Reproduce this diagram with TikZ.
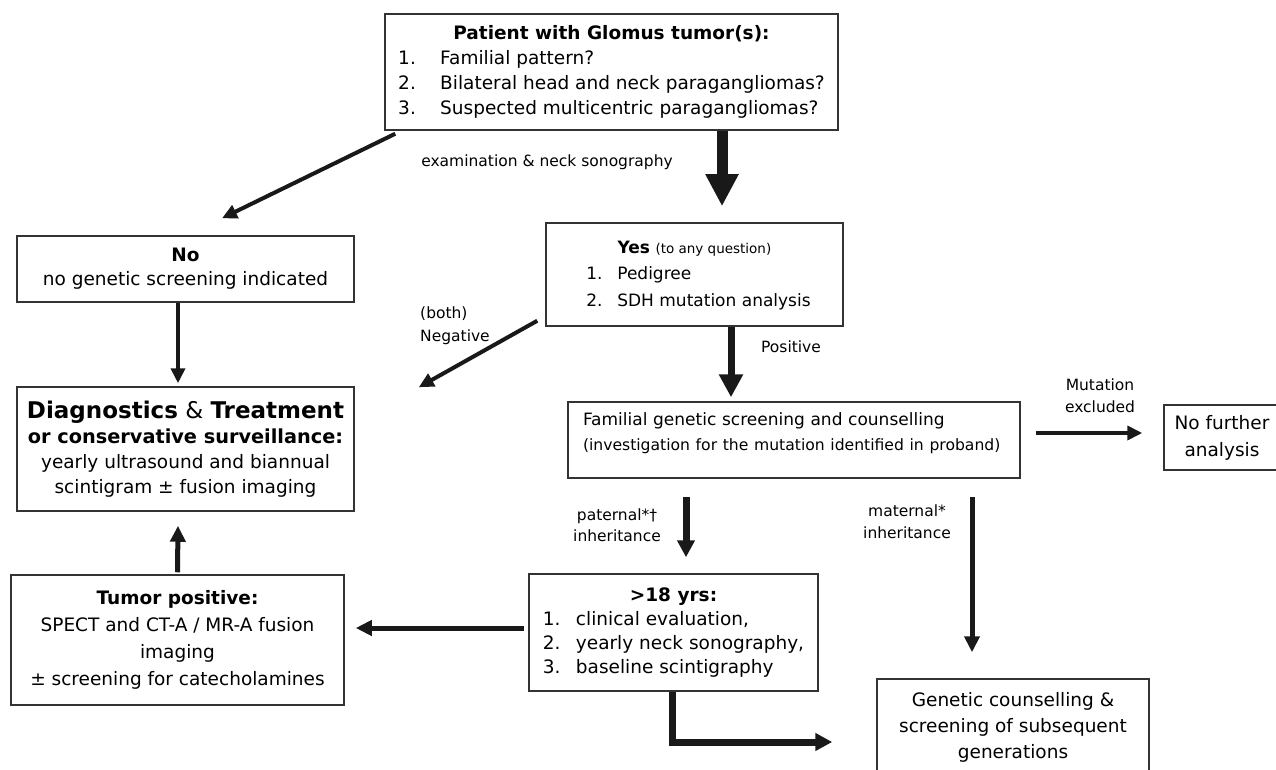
\documentclass[tikz,border=0pt]{standalone}
\usepackage{fontspec}
\setmainfont{DejaVu Sans}
\usetikzlibrary{arrows.meta}
\newcommand\fsmain{\fontsize{18.5}{26}\selectfont}
\newcommand\fslab{\fontsize{15.5}{22}\selectfont}
\newcommand\numit[1]{\makebox[33pt][l]{#1}}
\begin{document}
\begin{tikzpicture}[x=1pt,y=-1pt,
  box/.style={draw=black!80, line width=1.5pt, fill=white, inner sep=0pt, align=center, font=\fsmain},
  lab/.style={font=\fslab, inner sep=0pt, align=center},
  arrBig/.style={line width=11pt, black!90, -{Triangle[length=32pt,width=31pt]}},
  arrPos/.style={line width=7pt, black!90, -{Triangle[length=23pt,width=23pt]}},
  arrMid/.style={line width=7pt, black!90, -{Triangle[length=17pt,width=17pt]}},
  arrFive/.style={line width=5pt, black!90, -{Triangle[length=16pt,width=15pt]}},
  arrFour/.style={line width=4pt, black!90, -{Triangle[length=15pt,width=14pt]}}
]
\useasboundingbox (0,0) rectangle (1276,770);
\clip (0,0) rectangle (1276,770);
\fill[white] (0,0) rectangle (1276,770);

% boxes
\node[box, minimum width=453pt, minimum height=116pt, font=\fontsize{18.5}{25}\selectfont] (top) at (611.5,72)
 {\begin{tabular}{@{}l@{}}\multicolumn{1}{@{}c@{}}{\textbf{Patient with Glomus tumor(s):}}\\
  \makebox[42pt][l]{1.}Familial pattern?\\
  \makebox[42pt][l]{2.}Bilateral head and neck paragangliomas?\\
  \makebox[42pt][l]{3.}Suspected multicentric paragangliomas?\end{tabular}};

\node[box, minimum width=337pt, minimum height=66pt, font=\fontsize{18.5}{24}\selectfont] (no) at (185.5,269)
 {\textbf{No}\\no genetic screening indicated};

\node[box, minimum width=297pt, minimum height=103pt, font=\fontsize{17}{26.5}\selectfont] (yes) at (694.5,274.5)
 {\hspace*{8pt}\begin{tabular}{@{}l@{}}\multicolumn{1}{@{}c@{}}{\hspace*{-8pt}\textbf{Yes} {\fontsize{13.5}{20}\selectfont (to any question)}}\\
  \makebox[31pt][l]{1.}Pedigree\\
  \makebox[31pt][l]{2.}SDH mutation analysis\end{tabular}};

\node[box, minimum width=337pt, minimum height=124pt, font=\fontsize{18.5}{25}\selectfont] (diag) at (185.5,449)
 {{\fontsize{23}{25}\selectfont\textbf{Diagnostics} \& \textbf{Treatment}}\\
  {\fontsize{19.3}{25}\selectfont\textbf{or conservative surveillance:}}\\
  yearly ultrasound and biannual\\
  scintigram ± fusion imaging};

\node[box, minimum width=452pt, minimum height=76pt, text width=422pt, inner xsep=15pt, align=left, font=\fontsize{17}{25}\selectfont] (fam) at (794,440)
 {\mbox{Familial genetic screening and counselling}\\
  \mbox{\fontsize{15.6}{25}\selectfont (investigation for the mutation identified in proband)\rule[-16pt]{0pt}{1pt}}};

\node[box, minimum width=116pt, minimum height=65pt, font=\fontsize{18.5}{27}\selectfont] (nf) at (1222,437.5)
 {No further\\analysis};

\node[box, minimum width=289pt, minimum height=117pt, font=\fontsize{18.5}{24}\selectfont] (old) at (673.5,632.5)
 {\begin{tabular}{@{}l@{}}\multicolumn{1}{@{}c@{}}{\textbf{>18 yrs:}}\\
  \numit{1.}clinical evaluation,\\
  \numit{2.}yearly neck sonography,\\
  \numit{3.}baseline scintigraphy\end{tabular}};

\node[box, minimum width=333pt, minimum height=130pt, font=\fontsize{18.5}{27}\selectfont] (tum) at (177.5,640)
 {\textbf{Tumor positive:}\\
  SPECT and CT-A / MR-A fusion\\
  imaging\\
  ± screening for catecholamines};

\node[box, minimum width=272pt, minimum height=96pt, font=\fontsize{18.5}{26}\selectfont] (gen) at (1013,727)
 {Genetic counselling \&\\screening of subsequent\\generations};

% labels
\node[lab] (lexam) at (547,162) {examination \& neck sonography};
\node[lab, align=left, anchor=west, font=\fontsize{15.5}{23}\selectfont] (lneg) at (420,326) {(both)\\Negative};
\node[lab] (lpos) at (791,347) {Positive};
\node[lab] (lmut) at (1100,396) {Mutation\\excluded};
\node[lab, font=\fontsize{15.5}{21}\selectfont] (lpat) at (617,525) {paternal*†\\inheritance};
\node[lab] (lmat) at (907,522) {maternal*\\inheritance};

% connectors
\draw[arrBig] ([xshift=110.5pt]top.south) -- ([xshift=27.5pt,yshift=16pt]yes.north);
\draw[arrFour] ([xshift=11pt,yshift=-3pt]top.south west) -- ([xshift=36.5pt,yshift=17pt]no.north);
\draw[arrFour] ([xshift=-7.5pt]no.south) -- ([xshift=-7.5pt,yshift=3pt]diag.north);
\draw[arrFour] ([xshift=-8pt,yshift=6pt]yes.south west) -- ([xshift=64pt,yshift=-1pt]diag.north east);
\draw[arrPos] ([xshift=36.5pt]yes.south) -- ([xshift=-63pt,yshift=4pt]fam.north);
\draw[arrFour] ([xshift=15pt,yshift=7pt]fam.east) -- ([xshift=-21pt,yshift=4.5pt]nf.west);
\draw[arrMid] ([xshift=-108pt,yshift=-18pt]fam.south) -- ([xshift=12.5pt,yshift=16pt]old.north);
\draw[arrFive] ([xshift=178pt,yshift=-18pt]fam.south) -- ([xshift=-41pt,yshift=26pt]gen.north);
\draw[arrMid] ([xshift=-1.5pt]old.south) |- ([xshift=-44pt,yshift=-15pt]gen.west);
\draw[arrFive] ([xshift=-4pt,yshift=4.5pt]old.west) -- ([xshift=11pt,yshift=12pt]tum.east);
\draw[arrFive] ([yshift=2pt]tum.north) -- ([xshift=-7.5pt,yshift=-14pt]diag.south);
\end{tikzpicture}
\end{document}
